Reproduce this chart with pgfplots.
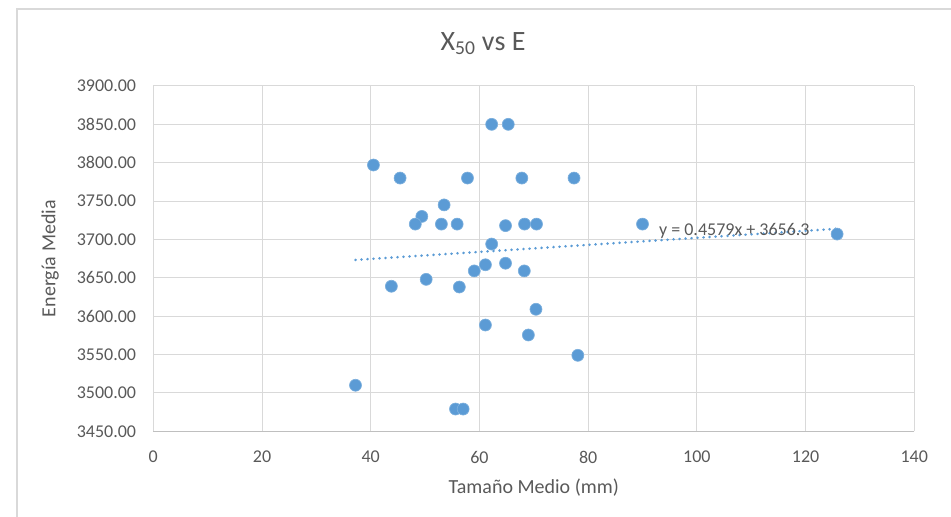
\documentclass[border=0pt]{standalone}
\usepackage{pgfplots}
\pgfplotsset{compat=1.18}
\usepackage{fontspec}
\setmainfont{Carlito}
\definecolor{pt}{HTML}{5B9BD5}
\definecolor{txt}{HTML}{595959}
\definecolor{grd}{HTML}{D9D9D9}
\definecolor{axl}{HTML}{BFBFBF}
\newcommand{\tickfont}{\fontsize{13.5}{16}\selectfont}
\newcommand{\labfont}{\fontsize{15}{18}\selectfont}
\newcommand{\titfont}{\fontsize{21}{25}\selectfont}
\begin{document}
\begin{tikzpicture}[x=0.75pt,y=0.75pt]
\path[use as bounding box] (0,0) rectangle (951,517);
\draw[grd, line width=1.1pt] (17,0) -- (17,508) -- (951,508);
\begin{axis}[
  at={(114.975pt,64.275pt)}, anchor=south west,
  scale only axis, width=570.75pt, height=259pt,
  xmin=0, xmax=140, ymin=3450, ymax=3900,
  xtick={0,20,...,140}, ytick={3450,3500,...,3900},
  axis x line=bottom, axis y line=left,
  axis line style={-},
  x axis line style={draw=axl, line width=0.9pt},
  y axis line style={draw=grd, line width=0.75pt},
  grid=major, major grid style={draw=grd, line width=0.75pt},
  major tick length=0pt,
  /pgf/number format/assume math mode=true,
  yticklabel style={/pgf/number format/fixed, /pgf/number format/fixed zerofill, /pgf/number format/precision=2, /pgf/number format/1000 sep={}},
  xticklabel style={/pgf/number format/1000 sep={}},
  every tick label/.append style={font=\tickfont, text=txt, inner sep=0pt},
  yticklabel style={anchor=east, xshift=-12.75pt},
  xticklabel style={anchor=north, yshift=-14.5pt},
  xlabel={Tamaño Medio (mm)},
  ylabel={Energía Media},
  label style={font=\labfont, text=txt},
  x label style={at={(axis description cs:0.5,-0.164)}, anchor=center},
  y label style={at={(axis description cs:-0.1357,0.5)}, anchor=center},
  clip=false,
]
\addplot[only marks, mark=*, mark size=4.5pt, mark options={fill=pt, draw=pt!80!white, line width=0.5pt}] coordinates {
(62.25,3850) (65.3,3850)
(40.5,3797)
(45.4,3780) (57.8,3780) (67.8,3780) (77.4,3780)
(53.5,3745)
(49.4,3730)
(48.2,3720) (53.0,3720) (55.9,3720) (68.3,3720) (70.5,3720) (90.0,3720)
(64.8,3718)
(125.8,3707)
(62.25,3694)
(61.1,3667) (64.8,3669)
(59.05,3659) (68.25,3659)
(50.2,3648)
(43.8,3639) (56.3,3638)
(70.4,3609)
(61.1,3588.5)
(69.0,3575.5)
(78.1,3549)
(37.2,3510)
(55.6,3479) (57.0,3479)
};
\addplot[pt, line width=2.1pt, line cap=round, dash pattern=on 0.01pt off 4.5pt] coordinates {(37.2,3673.33) (125.8,3713.90)};
\node[anchor=west, font=\tickfont, text=txt, inner sep=0pt] at (axis cs:93.0,3711.4) {y = 0.4579x + 3656.3};
\end{axis}
\node[font=\titfont, text=txt] at (483,473.3) {X\textsubscript{50} vs E};
\end{tikzpicture}
\end{document}
